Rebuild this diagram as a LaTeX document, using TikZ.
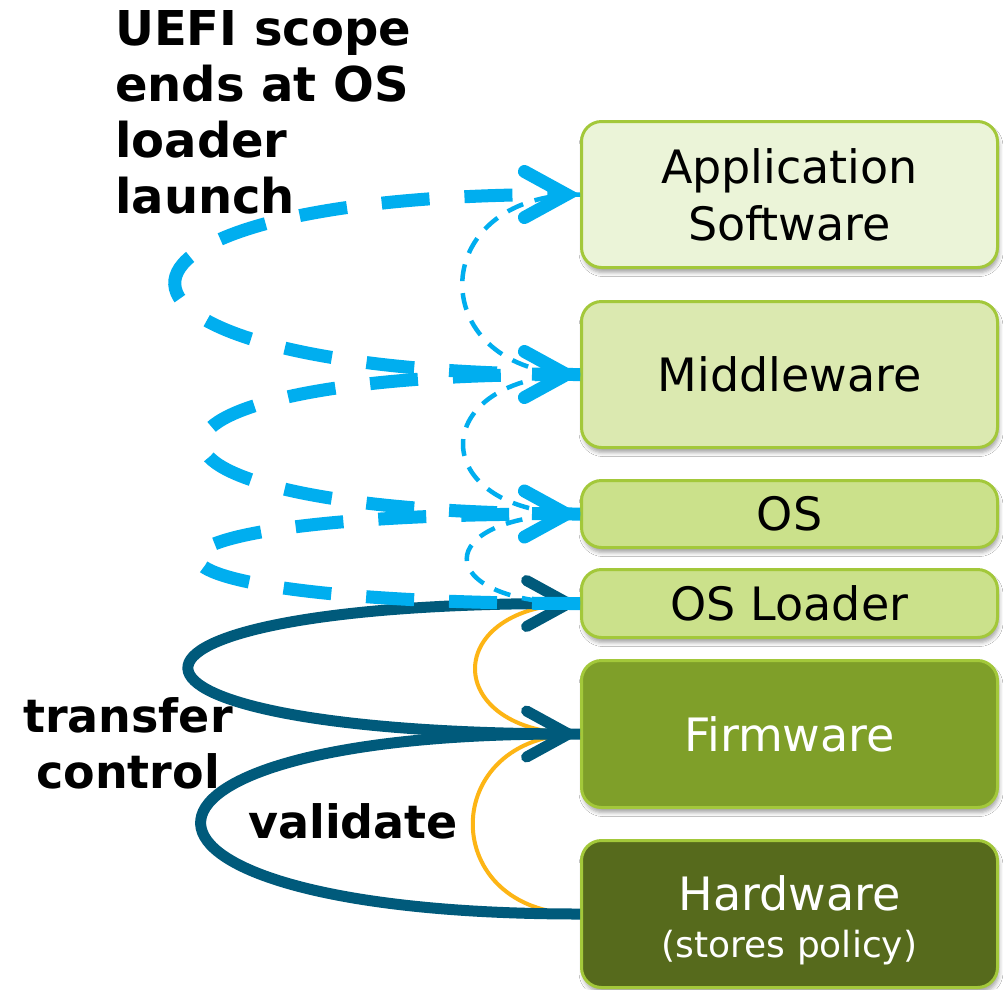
\documentclass[tikz,border=0pt]{standalone}
\usepackage{fontspec}
\setmainfont{DejaVu Sans}
\usetikzlibrary{arrows.meta,shadows.blur}

\definecolor{appfill}{HTML}{EBF4D8}
\definecolor{midfill}{HTML}{DBE9B0}
\definecolor{osfill}{HTML}{CBE18B}
\definecolor{fwfill}{HTML}{7F9F29}
\definecolor{hwfill}{HTML}{566A1C}
\definecolor{boxedge}{HTML}{A3C83A}
\definecolor{ctrlteal}{HTML}{005A7B}
\definecolor{checkorange}{HTML}{FDB515}
\definecolor{uefiblue}{HTML}{00AEEF}

\begin{document}
\begin{tikzpicture}[x=1pt,y=-1pt,
  layer/.style={draw=boxedge, line width=3pt, rounded corners=20pt,
    minimum width=416pt, inner sep=0pt, align=center,
    font=\fontsize{46}{57}\selectfont,
    blur shadow={shadow xshift=1.5pt, shadow yshift=-5pt,
      shadow blur radius=4pt, shadow opacity=35}},
  chevron/.style={-{Straight Barb[length=42pt,width=46pt,line cap=round,line join=miter]}},
  ctrl/.style={draw=ctrlteal, line width=11pt, chevron},
  check/.style={draw=checkorange, line width=4pt},
  osscope/.style={draw=uefiblue, line width=4.5pt, dash pattern=on 17pt off 12pt},
  bootscope/.style={draw=uefiblue, line width=13pt, dash pattern=on 48pt off 35pt, chevron},
  caption/.style={inner sep=0pt, font=\bfseries\fontsize{46}{56}\selectfont}
]
\useasboundingbox (0,0) rectangle (1003,989);
\fill[white] (0,0) rectangle (1003,989);

% software / firmware stack
\node[layer, fill=appfill, minimum height=146pt] (app) at (789.5,194.5) {Application\\Software};
\node[layer, fill=midfill, minimum height=146pt] (mw)  at (789.5,374.5) {Middleware};
\node[layer, fill=osfill,  minimum height=67pt]  (os)  at (789.5,514)   {OS};
\node[layer, fill=osfill,  minimum height=68pt]  (ldr) at (789.5,603.5) {OS Loader};
\node[layer, fill=fwfill,  minimum height=147pt, text=white] (fw) at (789.5,734) {Firmware};
\node[layer, fill=hwfill,  minimum height=147pt, text=white] (hw) at (789.5,914)
  {\rule{0pt}{47pt}Hardware\\[-10pt]{\fontsize{36}{47}\selectfont (stores policy)}};

% validation links
\draw[check] (hw.west) .. controls +(-143,0) and +(-143,0) .. (fw.west);
\draw[check] (fw.west) .. controls +(-140,0) and +(-140,0) .. (ldr.west);

% transfer of control
\draw[ctrl] (hw.west) .. controls +(-503,0) and +(-503,0) .. (fw.west);
\draw[ctrl] (fw.west) .. controls +(-520,0) and +(-520,0) .. (ldr.west);

% validation beyond the loader
\draw[osscope] (app.west) .. controls +(-157,0) and +(-157,0) .. (mw.west);
\draw[osscope] (mw.west)  .. controls +(-156,0) and +(-156,0) .. (os.west);
\draw[osscope] (os.west)  .. controls +(-151,0) and +(-151,0) .. (ldr.west);

% hand-offs beyond the loader
\draw[bootscope] (ldr.west) .. controls +(-507,0) and +(-507,0) .. (os.west);
\draw[bootscope] (os.west)  .. controls +(-500,0) and +(-500,0) .. (mw.west);
\draw[bootscope] (mw.west)  .. controls +(-537,0) and +(-537,0) .. (app.west);

% captions
\node[caption, font=\bfseries\fontsize{48}{56}\selectfont, align=left, anchor=north west] (scopenote) at (115,10)
  {UEFI scope\\ends at OS\\loader\\launch};
\node[caption, align=center, anchor=north] (transfernote) at (128,697) {transfer\\control};
\node[caption, anchor=base west] (validatenote) at (248,838) {validate};
\end{tikzpicture}
\end{document}
